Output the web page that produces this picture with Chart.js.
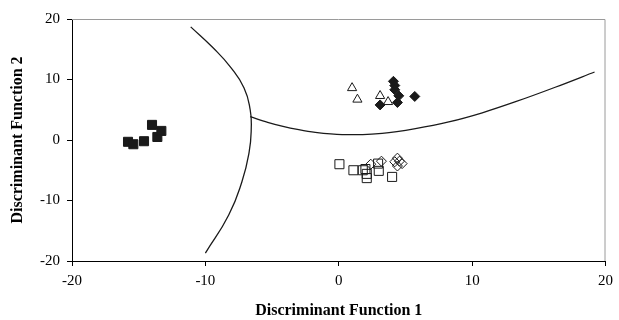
<!DOCTYPE html>
<html>
<head>
<meta charset="utf-8">
<script src="https://cdn.jsdelivr.net/npm/chart.js@4.4.0/dist/chart.umd.min.js"></script>
<style>
  body { margin: 0; background: #fff; }
  #wrap { width: 619px; height: 320px; }
</style>
</head>
<body>
<div id="wrap"><canvas id="grafico" width="619" height="320"></canvas></div>
<script>
// Grupos de pontos (Discriminant Function 1, Discriminant Function 2)
const quadradosCheios = [
    {x: -15.8, y: -0.3}, {x: -15.4, y: -0.7}, {x: -14.6, y: -0.2},
    {x: -14.0, y: 2.5}, {x: -13.6, y: 0.5}, {x: -13.3, y: 1.5}
];
const triangulosAbertos = [
    {x: 1.0, y: 8.6}, {x: 1.4, y: 6.7}, {x: 3.1, y: 7.3}, {x: 3.7, y: 6.3}
];
const losangosCheios = [
    {x: 4.1, y: 9.7}, {x: 4.2, y: 9.0}, {x: 4.2, y: 8.3}, {x: 4.5, y: 7.3},
    {x: 4.4, y: 6.2}, {x: 3.1, y: 5.8}, {x: 5.7, y: 7.2}
];
const quadradosAbertos = [
    {x: 0.05, y: -4.0}, {x: 1.1, y: -5.0}, {x: 1.8, y: -5.0}, {x: 2.0, y: -4.8},
    {x: 2.1, y: -5.6}, {x: 2.1, y: -6.3}, {x: 3.0, y: -5.1}, {x: 4.0, y: -6.1},
    {x: 2.95, y: -3.9}
];
const losangosAbertos = [
    {x: 2.4, y: -4.0}, {x: 3.2, y: -3.5}, {x: 4.4, y: -3.0}, {x: 4.55, y: -3.5},
    {x: 4.75, y: -3.9}, {x: 4.4, y: -4.3}, {x: 4.2, y: -3.6}
];

// Fronteiras entre os grupos
const fronteiraEsquerda = [
    {x: -11.1, y: 18.7}, {x: -9.5, y: 15.4}, {x: -8.1, y: 12.0}, {x: -7.1, y: 8.6},
    {x: -6.64, y: 5.0}, {x: -6.56, y: 2.0}, {x: -6.72, y: -2.0}, {x: -7.26, y: -6.9},
    {x: -8.25, y: -12.4}, {x: -10.0, y: -18.7}
];
const fronteiraDireita = [
    {x: -6.64, y: 3.85}, {x: -5.33, y: 2.93}, {x: -4.26, y: 2.3}, {x: -3.0, y: 1.7},
    {x: -1.76, y: 1.25}, {x: 0.25, y: 0.9}, {x: 1.8, y: 0.9}, {x: 3.25, y: 1.08},
    {x: 5.75, y: 1.88}, {x: 8.25, y: 2.99}, {x: 10.76, y: 4.5}, {x: 13.26, y: 6.33},
    {x: 16.28, y: 8.76}, {x: 19.18, y: 11.24}
];

const ticksEixo = [-20, -10, 0, 10, 20];

const fonte = 'Liberation Serif';

// Moldura cinza no topo e à direita
const moldura = {
    id: 'moldura',
    beforeDatasetsDraw(chart) {
        const {ctx, chartArea: a} = chart;
        ctx.save();
        ctx.strokeStyle = '#9a9a9a';
        ctx.lineWidth = 1;
        ctx.beginPath();
        ctx.moveTo(a.left, a.top + 0.5);
        ctx.lineTo(a.right - 0.5, a.top + 0.5);
        ctx.lineTo(a.right - 0.5, a.bottom);
        ctx.stroke();
        ctx.restore();
    }
};

function linha(dados, modo, tensao) {
    return {
        data: dados, showLine: true, pointRadius: 0, borderColor: '#1a1a1a',
        borderWidth: 1.3, tension: tensao, cubicInterpolationMode: modo, fill: false
    };
}

function pontos(dados, estilo, raio, cheio) {
    return {
        data: dados, pointStyle: estilo, pointRadius: raio, pointHoverRadius: raio,
        borderColor: '#1a1a1a', borderWidth: 1,
        backgroundColor: cheio ? '#1a1a1a' : 'rgba(0,0,0,0)', showLine: false
    };
}

const ctx = document.getElementById('grafico').getContext('2d');
new Chart(ctx, {
    type: 'scatter',
    data: {
        datasets: [
            linha(fronteiraEsquerda, 'default', 0.5),
            linha(fronteiraDireita, 'monotone', 0.4),
            pontos(quadradosCheios, 'rect', 6.4, true),
            pontos(triangulosAbertos, 'triangle', 5.3, false),
            pontos(losangosCheios, 'rectRot', 5, true),
            pontos(quadradosAbertos, 'rect', 6.4, false),
            pontos(losangosAbertos, 'rectRot', 5, false)
        ]
    },
    options: {
        responsive: false,
        animation: false,
        layout: { padding: { top: 19, right: 9, left: 0, bottom: 0 } },
        plugins: { legend: { display: false }, tooltip: { enabled: false } },
        scales: {
            x: {
                type: 'linear', min: -20, max: 20,
                afterBuildTicks: s => { s.ticks = ticksEixo.map(v => ({value: v})); },
                afterFit: s => { s.height = 59; },
                grid: { drawOnChartArea: false, drawTicks: true, tickLength: 5, color: '#000' },
                border: { color: '#000', width: 1 },
                ticks: { color: '#000', padding: 6, maxRotation: 0, font: { family: fonte, size: 15 } },
                title: {
                    display: true, text: 'Discriminant Function 1', color: '#000',
                    padding: { top: 0, bottom: 0 },
                    font: { family: fonte, size: 16, weight: 'bold' }
                }
            },
            y: {
                type: 'linear', min: -20, max: 20,
                afterBuildTicks: s => { s.ticks = ticksEixo.map(v => ({value: v})); },
                afterFit: s => { s.width = 72; },
                grid: { drawOnChartArea: false, drawTicks: true, tickLength: 5, color: '#000' },
                border: { color: '#000', width: 1 },
                ticks: { color: '#000', padding: 7, font: { family: fonte, size: 15 } },
                title: {
                    display: true, text: 'Discriminant Function 2', color: '#000',
                    padding: { top: 8, bottom: 0 },
                    font: { family: fonte, size: 16, weight: 'bold' }
                }
            }
        }
    },
    plugins: [moldura]
});
</script>
</body>
</html>
